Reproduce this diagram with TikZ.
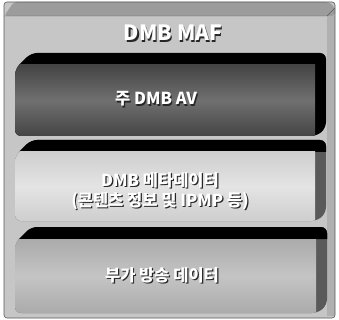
\documentclass[tikz,border=0pt]{standalone}
\usepackage{fontspec}
\setmainfont{Noto Sans CJK KR}
\definecolor{bgc}{HTML}{C6C6C6}
\definecolor{bgtop}{HTML}{9C9C9C}
\definecolor{bgside}{HTML}{B0B0B0}
\definecolor{sidec}{HTML}{5A5A5A}
\definecolor{faceA}{HTML}{444444}
\definecolor{faceAm}{HTML}{707070}
\definecolor{faceB}{HTML}{CECECE}
\definecolor{faceBm}{HTML}{E4E4E4}
\definecolor{faceC}{HTML}{ABABAB}
\definecolor{faceCm}{HTML}{C4C4C4}
\tikzset{
  lbl/.style={font=\bfseries\fontsize{16.5}{19.5}\selectfont, text=white, align=center, inner sep=0pt},
  lblshadow/.style={lbl, text=black!85},
  ttl/.style={font=\bfseries\fontsize{21}{24}\selectfont, text=white, inner sep=0pt},
  ttlshadow/.style={ttl, text=black!85}
}
\begin{document}
\begin{tikzpicture}[x=1pt,y=-1pt]
\useasboundingbox (0,0) rectangle (339,320);
% outer frame
\fill[bgc, rounded corners=3] (4,2) rectangle (335,318);
\fill[bgtop, rounded corners=3] (4,16) -- (14,2) -- (329,2) -- (335,8) -- (335,16) -- cycle;
\fill[bgside] (327,16) -- (335,16) -- (335,316) -- (327,316) -- cycle;
\draw[gray!70!black, line width=0.6pt, rounded corners=3] (4,2) rectangle (335,318);
\draw[gray!70!black, line width=0.4pt] (4,16) -- (327,16) -- (335,8);
% title
\node[ttlshadow] (ttls) at (174.3,34.3) {DMB MAF};
\node[ttl] (ttl) at (173,33) {DMB MAF};
% bar 1
\begin{scope}
\clip[rounded corners=6] (15,69) -- (31,53) -- (326,53) -- (326,128) -- (317,136) -- (15,136) -- cycle;
\fill[black] (0,40) rectangle (339,150);
\shade[top color=faceA, bottom color=faceA, middle color=faceAm] (15,65) rectangle (315,136);
\end{scope}
% bar 2
\begin{scope}
\clip[rounded corners=6] (15,156) -- (31,140) -- (326,140) -- (326,213) -- (317,221) -- (15,221) -- cycle;
\fill[sidec] (0,130) rectangle (339,230);
\fill[black] (0,130) rectangle (339,152);
\fill[black] (315,152) -- (326,145) -- (326,152) -- cycle;
\shade[top color=faceB, bottom color=faceB, middle color=faceBm] (15,152) rectangle (315,221);
\end{scope}
% bar 3
\begin{scope}
\clip[rounded corners=6] (15,243) -- (31,227) -- (327,227) -- (327,305) -- (318,313) -- (15,313) -- cycle;
\fill[sidec] (0,220) rectangle (339,320);
\fill[black] (0,220) rectangle (339,239);
\fill[black] (316,239) -- (327,232) -- (327,239) -- cycle;
\shade[top color=faceC, bottom color=faceC, middle color=faceCm] (15,239) rectangle (316,313);
\end{scope}
% labels
\node[lblshadow] (l1s) at (157.2,100.2) {주 DMB AV};
\node[lbl] (l1) at (156,99) {주 DMB AV};
\node[lblshadow] (l2s) at (161.2,192.2) {DMB 메타데이터\\(콘텐츠 정보 및 IPMP 등)};
\node[lbl] (l2) at (160,191) {DMB 메타데이터\\(콘텐츠 정보 및 IPMP 등)};
\node[lblshadow] (l3s) at (163.2,276.2) {부가 방송 데이터};
\node[lbl] (l3) at (162,275) {부가 방송 데이터};
\end{tikzpicture}
\end{document}
